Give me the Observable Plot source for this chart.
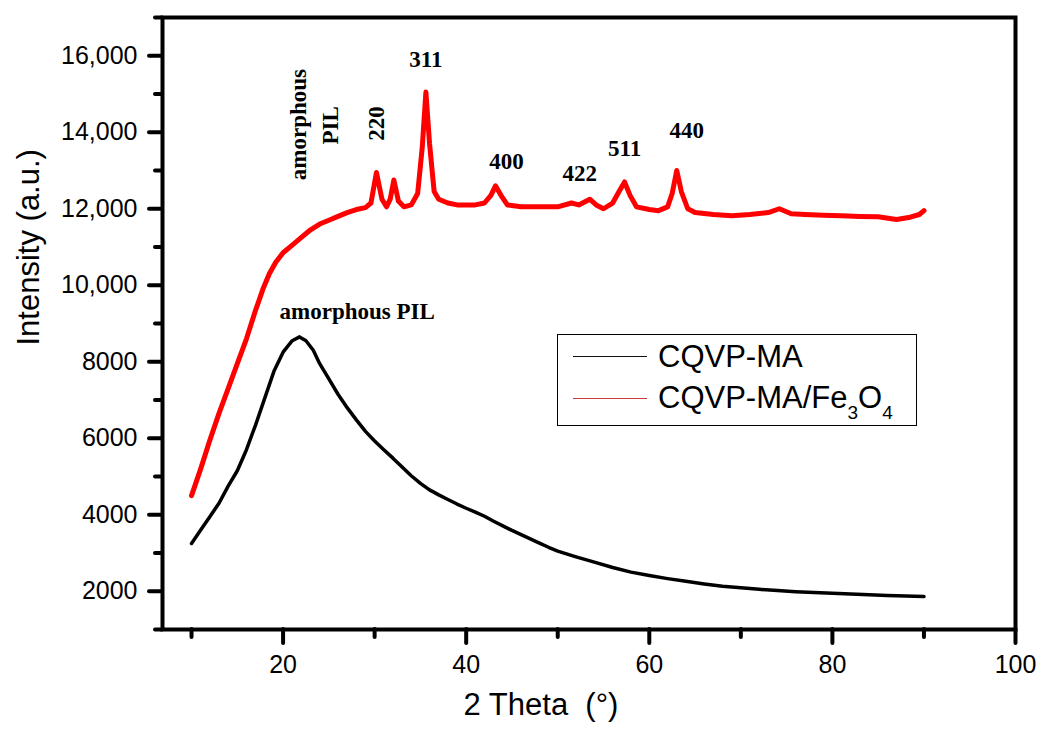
<!DOCTYPE html>
<html>
<head>
<meta charset="utf-8">
<script src="https://cdn.jsdelivr.net/npm/d3@7"></script>
<script src="https://cdn.jsdelivr.net/npm/@observablehq/plot@0.6"></script>
<style>
  body { margin: 0; background: #fff; overflow: hidden; }
  #wrap { position: relative; width: 1040px; height: 731px; }
  #chart g[aria-label$="tick"] { stroke-linecap: round; }
  #legend {
    position: absolute; left: 557px; top: 334px; width: 360px; height: 92px;
    border: 1.5px solid #000; box-sizing: border-box; background: #fff;
    font-family: "Liberation Sans", Arial, sans-serif; color: #000;
  }
  #legend .sw { position: absolute; left: 15px; width: 74px; height: 0; }
  #legend .lab { position: absolute; left: 100px; font-size: 31px; line-height: 31px; white-space: nowrap; }
  #legend sub { font-size: 19px; vertical-align: -11px; line-height: 0; }
</style>
</head>
<body>
<div id="wrap">
  <div id="chart"></div>
  <div id="legend">
    <div class="sw" style="top:21px;border-top:1.5px solid #111;"></div>
    <div class="lab" style="top:6px;">CQVP-MA</div>
    <div class="sw" style="top:63px;border-top:1.5px solid #c83a3a;"></div>
    <div class="lab" style="top:47px;">CQVP-MA/Fe<sub>3</sub>O<sub>4</sub></div>
  </div>
</div>
<script>
// ---- Data ----
// CQVP-MA/Fe3O4 (red)
const redTheta = [10, 11, 12, 13, 14, 15, 16, 17, 17.8, 18.5, 19.2, 20, 21, 22, 23, 24, 25, 26, 27, 28, 29,
  29.6, 30.2, 30.8, 31.3, 31.7, 32.1, 32.6, 33.2, 34, 34.7, 35.2, 35.6, 36.0, 36.5, 37, 38, 39, 40, 41, 42,
  42.7, 43.2, 43.8, 44.5, 46, 48, 50, 51.5, 52.3, 53.5, 54.2, 55, 56, 56.7, 57.3, 57.9, 58.6, 60, 61, 62,
  62.5, 63.0, 63.5, 64.2, 65, 67, 69, 71, 73, 74.2, 75.5, 77, 79, 81, 83, 85, 87, 88.5, 89.5, 90];
const redIntensity = [4500, 5200, 5950, 6650, 7300, 7950, 8600, 9350, 9900, 10300, 10600, 10850, 11050, 11250, 11450, 11600, 11700, 11800, 11900, 11980, 12030,
  12150, 12950, 12250, 12050, 12250, 12750, 12200, 12050, 12100, 12400, 13600, 15050, 13700, 12450, 12250, 12150, 12100, 12100, 12100, 12150,
  12350, 12600, 12350, 12100, 12050, 12050, 12050, 12150, 12100, 12250, 12100, 12000, 12150, 12450, 12700, 12350, 12050, 11980, 11950, 12050,
  12400, 13000, 12450, 12000, 11900, 11850, 11820, 11850, 11900, 12000, 11870, 11850, 11830, 11820, 11800, 11790, 11720, 11780, 11850, 11950];

// CQVP-MA (black)
const blackTheta = [10, 11, 12, 13, 14, 15, 16, 17, 18, 19, 20, 21, 21.8, 22.5, 23.3, 24, 25, 26, 27, 28,
  29, 30, 31, 32, 33, 34, 35, 36, 37, 38, 39, 40, 41, 42, 43, 44, 45, 46, 47, 48,
  49, 50, 52, 54, 56, 58, 60, 62, 64, 66, 68, 70, 72, 74, 76, 78, 80, 82, 84, 86, 88, 90];
const blackIntensity = [3250, 3600, 3950, 4300, 4750, 5150, 5700, 6350, 7050, 7750, 8250, 8550, 8650, 8550, 8300, 7950, 7550, 7150, 6800, 6480,
  6180, 5930, 5700, 5480, 5250, 5020, 4820, 4650, 4520, 4400, 4280, 4170, 4070, 3960, 3830, 3710, 3590, 3480, 3370, 3260,
  3150, 3050, 2900, 2760, 2620, 2500, 2410, 2330, 2260, 2190, 2130, 2090, 2050, 2020, 1990, 1965, 1945, 1930, 1910, 1890, 1875, 1860];

// Annotations
const peakLabels = ["amorphous", "PIL", "220", "311", "400", "422", "511", "440", "amorphous PIL"];
const peakTheta = [21.7, 25.2, 30.2, 35.6, 44.4, 52.4, 57.3, 64.1, 28.1];
const peakIntensity = [14200, 14180, 14230, 15890, 13230, 12920, 13570, 14050, 9300];
const peakRotate = [-90, -90, -90, 0, 0, 0, 0, 0, 0];

// Axis ticks
const xMajorTicks = [20, 40, 60, 80, 100];
const xMinorTicks = [10, 30, 50, 70, 90];
const yMajorTicks = [2000, 4000, 6000, 8000, 10000, 12000, 14000, 16000];
const yMinorTicks = [1000, 3000, 5000, 7000, 9000, 11000, 13000, 15000, 17000];

const xTitle = "2 Theta\u00A0\u00A0(\u00B0)";
const yTitle = "Intensity (a.u.)";

// ---- Build ----
const red = redTheta.map((t, i) => ({theta: t, intensity: redIntensity[i]}));
const black = blackTheta.map((t, i) => ({theta: t, intensity: blackIntensity[i]}));
const notes = peakLabels.map((l, i) => ({label: l, theta: peakTheta[i], intensity: peakIntensity[i], rotate: peakRotate[i]}));
const fmt = d => d >= 10000 ? d3.format(",")(d) : String(d);

const chart = Plot.plot({
  width: 1040,
  height: 731,
  marginLeft: 162,
  marginRight: 25,
  marginTop: 17,
  marginBottom: 102,
  x: {domain: [6.83, 100]},
  y: {domain: [1000, 17000]},
  style: {fontFamily: "'Liberation Sans', Arial, sans-serif", background: "white", color: "black"},
  marks: [
    Plot.line(black, {x: "theta", y: "intensity", stroke: "#000", strokeWidth: 3.5, strokeLinejoin: "round"}),
    Plot.line(red, {x: "theta", y: "intensity", stroke: "#ff0000", strokeWidth: 5, strokeLinejoin: "round"}),
    Plot.frame({stroke: "black", strokeWidth: 4}),
    Plot.axisX(xMajorTicks, {tickSize: 14, tickPadding: 12, fontSize: 25, strokeWidth: 4, label: null}),
    Plot.axisX(xMinorTicks, {tickSize: 8, strokeWidth: 4, tickFormat: () => "", label: null}),
    Plot.axisY(yMajorTicks, {tickSize: 13, tickPadding: 12, fontSize: 25, strokeWidth: 4, tickFormat: fmt, label: null}),
    Plot.axisY(yMinorTicks, {tickSize: 7, strokeWidth: 4, tickFormat: () => "", label: null}),
    Plot.text(notes, {x: "theta", y: "intensity", text: "label", rotate: "rotate",
      fontFamily: "'Liberation Serif', 'Times New Roman', serif", fontWeight: "bold", fontSize: 23, fill: "black"}),
    Plot.text([xTitle], {text: d => d, frameAnchor: "bottom", dy: 85, dx: -48, fontSize: 31, fill: "black"}),
    Plot.text([yTitle], {text: d => d, frameAnchor: "left", rotate: -90, dx: -133, dy: 22, fontSize: 31, fill: "black"})
  ]
});
document.getElementById("chart").appendChild(chart);
</script>
</body>
</html>
